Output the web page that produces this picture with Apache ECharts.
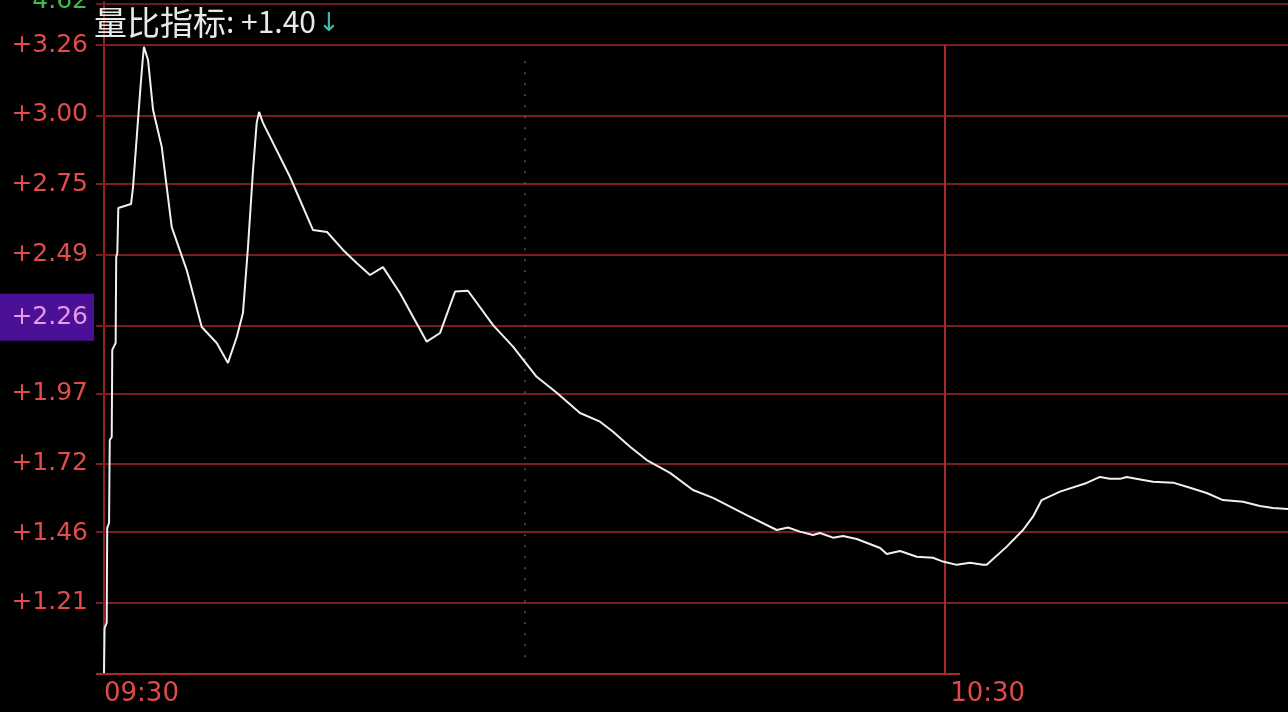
<!DOCTYPE html>
<html><head><meta charset="utf-8">
<script src="https://cdn.jsdelivr.net/npm/echarts@6.0.0/dist/echarts.min.js"></script>
<style>html,body{margin:0;padding:0;background:#000;}#c{width:1288px;height:712px;}</style>
</head><body><div id="c"></div>
<script>
// minutes after 09:30
const minutes = [0,0.04,0.19,0.23,0.36,0.41,0.55,0.59,0.83,0.87,
  0.95,1.02,1.93,2.07,2.57,2.76,2.85,3.14,3.50,4.12,
  4.83,5.90,6.97,8.04,8.84,9.47,9.91,10.27,10.63,10.89,
  11.06,11.34,13.27,14.91,15.91,17.05,18.02,18.97,19.90,21.11,
  23.02,23.97,25.04,25.96,27.75,29.17,30.86,32.29,33.95,35.38,
  36.31,37.52,38.71,40.37,42.01,43.44,45.84,47.98,48.79,49.64,
  50.57,51.07,52.00,52.71,53.69,55.36,55.83,56.78,57.97,59.13,
  59.84,60.82,61.77,62.70,62.96,64.39,65.55,66.26,66.88,68.19,
  70.09,71.04,71.75,72.47,72.94,74.11,74.82,76.25,77.23,78.65,
  79.81,81.24,82.45,83.38,84.45];
// 量比 values
const ratio = [0.953,1.118,1.137,1.486,1.504,1.809,1.820,2.140,2.165,2.481,
  2.496,2.661,2.676,2.738,3.084,3.205,3.253,3.205,3.021,2.885,
  2.591,2.433,2.224,2.165,2.092,2.187,2.275,2.518,2.801,2.974,
  3.014,2.974,2.775,2.580,2.573,2.507,2.459,2.415,2.444,2.349,
  2.170,2.202,2.354,2.357,2.231,2.152,2.041,1.982,1.908,1.876,
  1.839,1.784,1.735,1.688,1.625,1.596,1.533,1.478,1.487,1.472,
  1.460,1.467,1.450,1.456,1.445,1.412,1.390,1.401,1.380,1.376,
  1.362,1.350,1.358,1.350,1.350,1.417,1.478,1.527,1.588,1.619,
  1.651,1.673,1.666,1.666,1.673,1.662,1.655,1.652,1.637,1.614,
  1.588,1.582,1.566,1.559,1.555];

// horizontal grid lines
const yGridValues = [1.21,1.466,1.722,1.979,2.235,2.491,2.747,3.004,3.26];
// visible tick labels (the one at 2.235 is covered by the cursor label)
const yLabelValues = [1.21,1.466,1.722,1.979,2.491,2.747,3.004,3.26];
const yLabelTexts = ['+1.21','+1.46','+1.72','+1.97','+2.49','+2.75','+3.00','+3.26'];
const cursorValue = 2.26;
const cursorText = '+2.26';
const xTickValues = [0,60];
const xTickLabels = ['09:30','10:30'];
const midMinute = 30;
const sessionMark = 60;
const upperPanelLabel = '4.62';
const titleName = '量比指标';
const titleValue = ': +1.40';
const titleArrow = '↓';

const Y_MIN = 0.949, Y_MAX = 3.418, X_MIN = -0.571, X_MAX = 84.45;

const seriesData = minutes.map((m, i) => [m, ratio[i]]);
const FONT = 'DejaVu Sans';

const chart = echarts.init(document.getElementById('c'), null, {renderer: 'canvas'});
chart.setOption({
  animation: false,
  backgroundColor: '#000000',
  grid: {left: 96, right: 0, top: 2, bottom: 38, containLabel: false, outerBoundsMode: 'none'},
  xAxis: {
    type: 'value', min: X_MIN, max: X_MAX,
    axisLine: {show: false}, axisTick: {show: false}, splitLine: {show: false},
    axisLabel: {
      customValues: xTickValues,
      formatter: v => {
        const i = xTickValues.findIndex(t => Math.abs(t - v) < 1e-6);
        if (i < 0) return '';
        return i === 0 ? '{a|' + xTickLabels[i] + '}' : '{b|' + xTickLabels[i] + '}';
      },
      align: 'left', margin: 7,
      rich: {
        a: {color: '#e04a48', fontSize: 26, fontFamily: FONT, padding: [0, 0, 0, 0]},
        b: {color: '#e04a48', fontSize: 26, fontFamily: FONT, padding: [0, 0, 0, 5]}
      }
    }
  },
  yAxis: {
    type: 'value', min: Y_MIN, max: Y_MAX,
    axisLine: {show: true, lineStyle: {color: '#8e2428', width: 2}},
    axisTick: {show: false}, splitLine: {show: false},
    axisLabel: {
      customValues: yLabelValues.concat([cursorValue]),
      margin: 2,
      formatter: v => {
        if (Math.abs(v - cursorValue) < 1e-6) return '{h|' + cursorText + '}';
        let bi = 0, bd = 1e9;
        yLabelValues.forEach((t, i) => { const d = Math.abs(t - v); if (d < bd) { bd = d; bi = i; } });
        return '{n|' + yLabelTexts[bi] + '}';
      },
      rich: {
        n: {color: '#e24c4c', fontSize: 25, fontFamily: FONT, padding: [0, 6, 0, 0]},
        h: {color: '#e89ae8', fontSize: 25, fontFamily: FONT, backgroundColor: '#4a1096', padding: [11, 6, 11, 14]}
      }
    }
  },
  graphic: [
    {type: 'text', x: 94, y: 22, z: 10, style: {
      text: '{t|' + titleName + '}{v|' + titleValue + '}{a|' + titleArrow + '}',
      verticalAlign: 'middle',
      rich: {
        t: {fill: '#e8e8e8', fontSize: 33, fontFamily: 'Noto Sans CJK SC'},
        v: {fill: '#e8e8e8', fontSize: 30, fontFamily: 'Noto Sans CJK SC'},
        a: {fill: '#40b8a8', fontSize: 26, fontFamily: FONT, padding: [4, 0, 0, 2]}
      }
    }},
    {type: 'text', x: 88, y: 1, z: 10, style: {
      text: upperPanelLabel, align: 'right', verticalAlign: 'middle',
      fill: '#3cbf46', fontSize: 25, fontFamily: FONT
    }}
  ],
  series: [
    {
      type: 'line', data: seriesData, z: 1, silent: true,
      symbol: 'none', lineStyle: {opacity: 0},
      markLine: {
        silent: true, symbol: 'none', animation: false, label: {show: false},
        lineStyle: {color: '#7c1c22', width: 2, type: 'solid'},
        data: yGridValues.map(v => ({yAxis: v})).concat([
          {yAxis: Y_MAX - 0.004, lineStyle: {color: '#6e1a20', width: 2, type: 'solid'}},
          [{coord: [sessionMark, yGridValues[yGridValues.length - 1]], lineStyle: {color: '#a8282c', width: 2, type: 'solid'}}, {coord: [sessionMark, Y_MIN]}],
          [{coord: [X_MIN, Y_MIN], lineStyle: {color: '#a8282c', width: 2, type: 'solid'}}, {coord: [61.06, Y_MIN]}],
          [{coord: [midMinute, 3.2], lineStyle: {color: '#5a5a5a', width: 1.5, type: [2, 9]}}, {coord: [midMinute, 0.98]}]
        ])
      }
    },
    {
      type: 'line', data: seriesData, z: 5, silent: true,
      symbol: 'none', smooth: false,
      lineStyle: {color: '#f0f0f0', width: 2}
    }
  ]
});
</script>
</body></html>
